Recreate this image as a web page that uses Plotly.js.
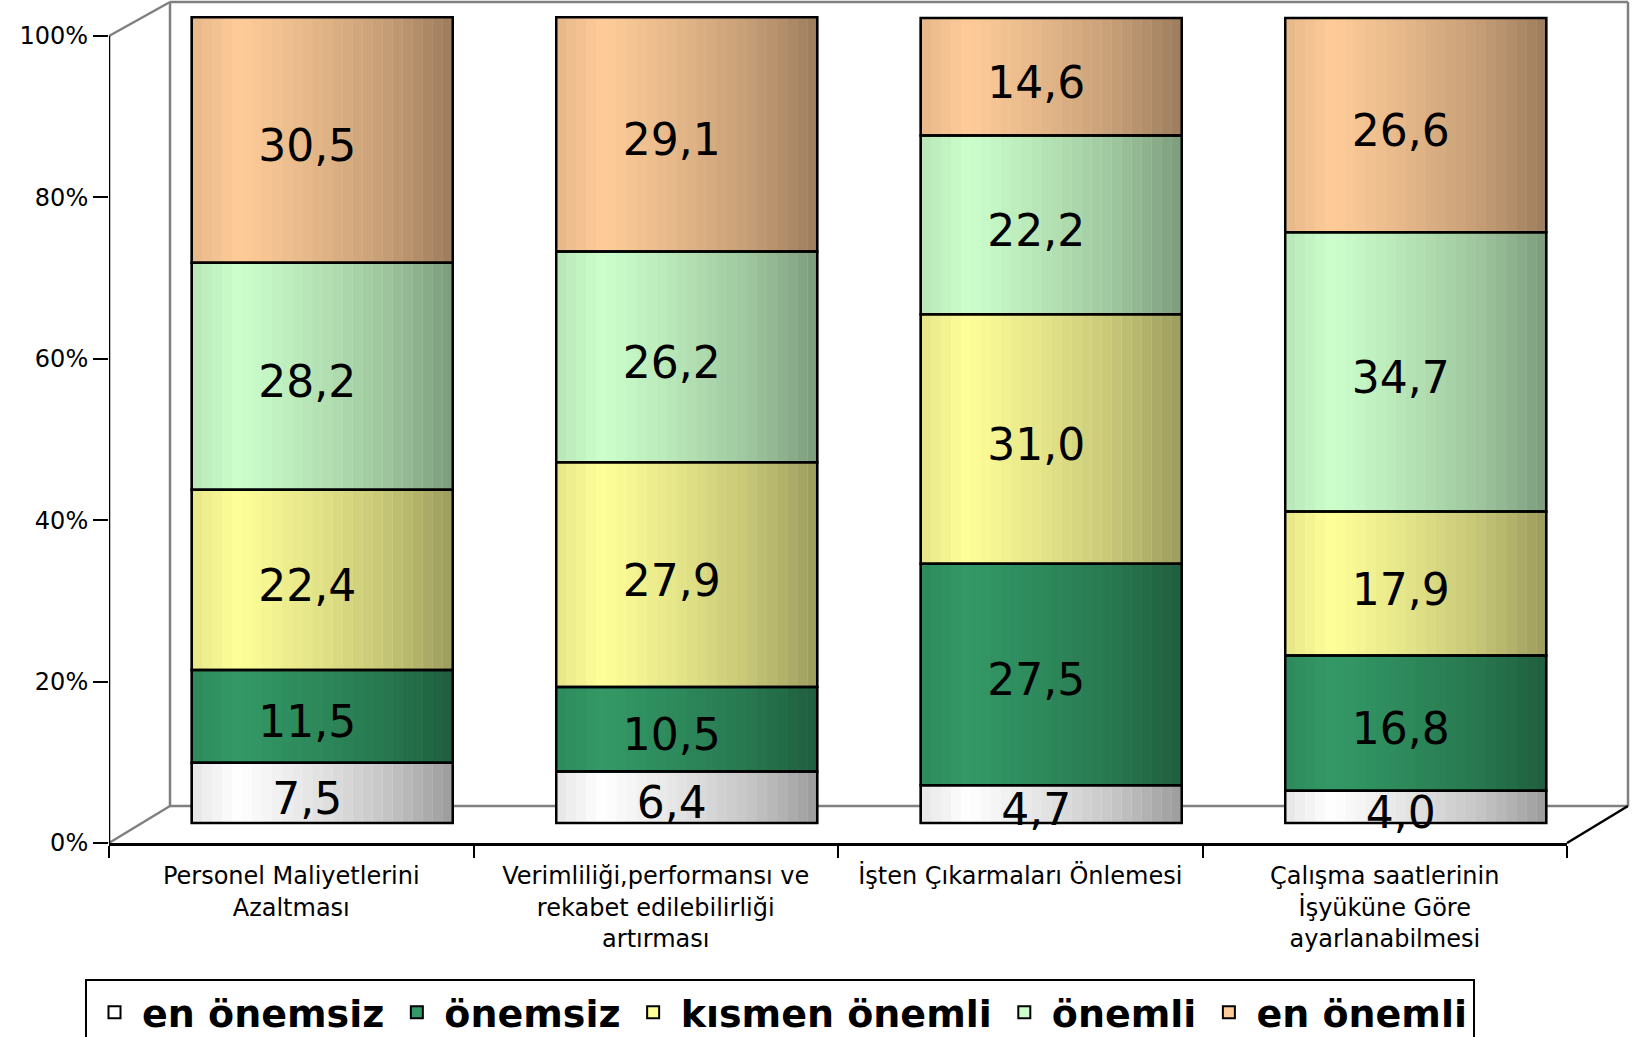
<!DOCTYPE html>
<html>
<head>
<meta charset="utf-8">
<script src="https://cdn.plot.ly/plotly-3.0.1.min.js"></script>
<style>html,body{margin:0;padding:0;background:#fff;}#chart{width:1633px;height:1037px;}</style>
</head>
<body>
<div id="chart"></div>
<script>
// ---- data ----
var categories = [
  "Personel Maliyetlerini<br>Azaltması",
  "Verimliliği,performansı ve<br>rekabet edilebilirliği<br>artırması",
  "İşten Çıkarmaları Önlemesi",
  "Çalışma saatlerinin<br>İşyüküne Göre<br>ayarlanabilmesi"
];
var seriesNames = ["en önemsiz", "önemsiz", "kısmen önemli", "önemli", "en önemli"];
var enOnemsiz    = [7.5, 6.4, 4.7, 4.0];
var onemsiz      = [11.5, 10.5, 27.5, 16.8];
var kismenOnemli = [22.4, 27.9, 31.0, 17.9];
var onemli       = [28.2, 26.2, 22.2, 34.7];
var enOnemli     = [30.5, 29.1, 14.6, 26.6];
var tickValues = [0, 20, 40, 60, 80, 100];
var tickLabels = ["0%", "20%", "40%", "60%", "80%", "100%"];

var seriesValues = [enOnemsiz, onemsiz, kismenOnemli, onemli, enOnemli];
var seriesColors = [[255,255,255],[51,153,102],[255,255,153],[204,255,204],[255,204,153]];

// ---- styling helpers ----
var FONT = "DejaVu Sans, Arial, sans-serif";
var BAR_W = 0.716;
var NSTRIP = 26;
var profile = [[0,0.90],[0.18,1.0],[0.5,0.88],[0.75,0.77],[1,0.61]];
function shade(t){
  for (var k=0;k<profile.length-1;k++){
    var a=profile[k], b=profile[k+1];
    if (t>=a[0] && t<=b[0]){ var u=(t-a[0])/(b[0]-a[0]); return a[1]+(b[1]-a[1])*u; }
  }
  return profile[profile.length-1][1];
}
function rgb(c,f){
  return "rgb("+Math.round(Math.min(255,c[0]*f))+","+Math.round(Math.min(255,c[1]*f))+","+Math.round(Math.min(255,c[2]*f))+")";
}
function cssRgb(c){ return "rgb("+c[0]+","+c[1]+","+c[2]+")"; }

// cumulative bases
var bases = [];
var running = categories.map(function(){return 0;});
seriesValues.forEach(function(vals){
  bases.push(running.slice());
  running = running.map(function(r,i){return r+vals[i];});
});

var traces = [];
// dummy trace on the front axes so they are drawn
traces.push({type:"scatter", x:categories, y:categories.map(function(){return null;}), xaxis:"x", yaxis:"y", showlegend:false, hoverinfo:"skip", mode:"markers"});

// legend / base traces
seriesValues.forEach(function(vals,s){
  traces.push({type:"bar", name:seriesNames[s], x:categories, y:vals, base:bases[s],
    xaxis:"x2", yaxis:"y2", width:BAR_W, offset:-BAR_W/2,
    marker:{color:cssRgb(seriesColors[s]), line:{color:"#000", width:2}},
    hoverinfo:"skip", showlegend:true});
});
// shading strips
seriesValues.forEach(function(vals,s){
  var w = BAR_W/NSTRIP;
  for (var i=0;i<NSTRIP;i++){
    var t=(i+0.5)/NSTRIP;
    traces.push({type:"bar", x:categories, y:vals, base:bases[s],
      xaxis:"x2", yaxis:"y2", width:w*1.02, offset:-BAR_W/2+i*w,
      marker:{color:rgb(seriesColors[s],shade(t)), line:{width:0}},
      hoverinfo:"skip", showlegend:false});
  }
});
// outlines
seriesValues.forEach(function(vals,s){
  traces.push({type:"bar", x:categories, y:vals, base:bases[s],
    xaxis:"x2", yaxis:"y2", width:BAR_W, offset:-BAR_W/2,
    marker:{color:"rgba(0,0,0,0)", line:{color:"#000", width:2.5}},
    hoverinfo:"skip", showlegend:false});
});
// value labels
seriesValues.forEach(function(vals,s){
  traces.push({type:"scatter", mode:"text", x:categories,
    y:vals.map(function(v,i){return bases[s][i]+v/2;}),
    text:vals.map(function(v){return v.toFixed(1).replace(".",",");}),
    textposition:"middle center", textfont:{family:FONT, size:44, color:"#000"},
    xaxis:"x3", yaxis:"y3", cliponaxis:false, hoverinfo:"skip", showlegend:false});
});

// plot area: x 109..1567, y 2..843 ; front 100% sits at y=36
var TOP = 2, BOT = 843, H = BOT - TOP;
function px(x){ return (x-109)/1458; }
function py(y){ return (BOT-y)/H; }
var yFrontMax = 100*H/(BOT-36);            // front axis: 0 at 843, 100 at 36
var span2 = 100*H/805;                      // bars: 0 at 823, 100 at 18
var y2min = -20*span2/H, y2max = y2min + span2;
var labelShift = 10*span2/H;                // value labels sit ~10px lower
var y3min = y2min + labelShift, y3max = y2max + labelShift;

var gray = {color:"#808080", width:2.5};
var shapes = [
  {type:"line", xref:"paper", yref:"paper", x0:px(170), y0:py(806), x1:px(170), y1:py(2), line:gray, layer:"below"},
  {type:"line", xref:"paper", yref:"paper", x0:px(170), y0:py(2), x1:px(1628), y1:py(2), line:gray, layer:"below"},
  {type:"line", xref:"paper", yref:"paper", x0:px(1628), y0:py(2), x1:px(1628), y1:py(806), line:gray, layer:"below"},
  {type:"line", xref:"paper", yref:"paper", x0:px(170), y0:py(806), x1:px(1628), y1:py(806), line:gray, layer:"below"},
  {type:"line", xref:"paper", yref:"paper", x0:px(109), y0:py(36), x1:px(170), y1:py(2), line:gray, layer:"below"},
  {type:"line", xref:"paper", yref:"paper", x0:px(109), y0:py(843), x1:px(170), y1:py(806), line:gray, layer:"below"},
  {type:"line", xref:"paper", yref:"paper", x0:px(1567), y0:py(843), x1:px(1628), y1:py(806), line:{color:"#000", width:2.5}, layer:"below"},
  {type:"line", xref:"x", yref:"y", x0:-0.5, x1:-0.5, y0:0, y1:100, line:{color:"#000", width:2.5}, layer:"above"}
];

var layout = {
  width:1633, height:1037,
  margin:{l:109, r:66, t:TOP, b:1037-BOT, autoexpand:false},
  paper_bgcolor:"#fff", plot_bgcolor:"rgba(0,0,0,0)",
  barmode:"overlay",
  showlegend:true,
  font:{family:FONT, color:"#000"},
  xaxis:{type:"category", range:[-0.5,3.5], autorange:false, showline:true, linecolor:"#000", linewidth:2.5,
    ticks:"outside", tickson:"boundaries", ticklen:12, tickwidth:2, tickcolor:"#000", ticklabelstandoff:10,
    showgrid:false, zeroline:false, tickfont:{family:FONT, size:24, color:"#000"}, fixedrange:true},
  yaxis:{range:[0,yFrontMax], autorange:false, tickvals:tickValues, ticktext:tickLabels, showline:false,
    ticks:"outside", ticklen:15, tickwidth:2, tickcolor:"#000", showgrid:false, zeroline:false,
    tickfont:{family:FONT, size:24, color:"#000"}, fixedrange:true},
  xaxis2:{type:"category", overlaying:"x", range:[-0.585,3.415], autorange:false, visible:false, fixedrange:true},
  xaxis3:{type:"category", overlaying:"x", range:[-0.544,3.456], autorange:false, visible:false, fixedrange:true},
  yaxis2:{overlaying:"y", range:[y2min,y2max], autorange:false, visible:false, fixedrange:true},
  yaxis3:{overlaying:"y", range:[y3min,y3max], autorange:false, visible:false, fixedrange:true},
  legend:{orientation:"h", x:px(85), y:py(979), xanchor:"left", yanchor:"top",
    bordercolor:"#000", borderwidth:2, bgcolor:"#fff", traceorder:"normal", itemwidth:45,
    font:{family:FONT, size:38, color:"#000", weight:"bold"}},
  shapes:shapes
};

Plotly.newPlot("chart", traces, layout, {displayModeBar:false, staticPlot:true});
</script>
</body>
</html>
